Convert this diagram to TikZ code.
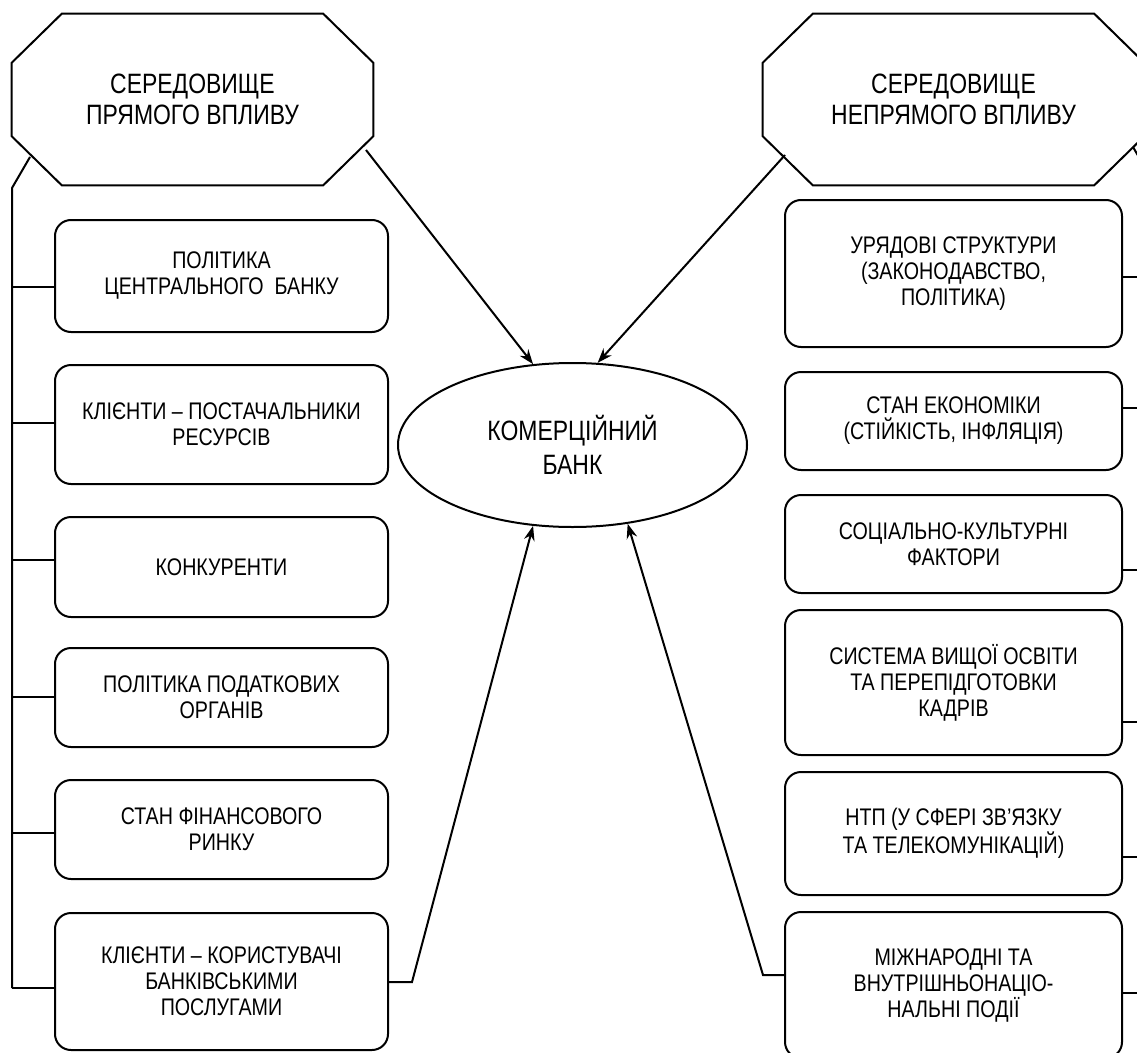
\documentclass[tikz,border=0pt]{standalone}
\usepackage{fontspec}
\setmainfont{Liberation Sans}[FakeStretch=0.82]
\usetikzlibrary{arrows.meta,positioning,shapes.geometric}

\begin{document}
\begin{tikzpicture}[x=0.75pt, y=-0.75pt,
    factor/.style={draw, rounded corners=12pt, line width=1.5pt, align=center, inner sep=2pt, font=\fontsize{18}{19.5}\selectfont},
    env/.style={align=center, minimum height=128.25pt, inner sep=0pt, font=\fontsize{21}{23.25}\selectfont},
    link/.style={line width=1.5pt},
    arr/.style={-{Stealth[length=11pt, width=8pt]}, line width=1.5pt}]
    \useasboundingbox (0,0) rectangle (1137,1052);
    \clip (0,0) rectangle (1137,1052);

    % environments
    \node[env, minimum width=270.75pt] (direct) at (192.5,99.5) {СЕРЕДОВИЩЕ\\ПРЯМОГО ВПЛИВУ};
    \node[env, minimum width=285.75pt] (indirect) at (953.5,99.5) {СЕРЕДОВИЩЕ\\НЕПРЯМОГО ВПЛИВУ};
    \foreach \n in {direct,indirect}
        \draw[link] ([xshift=37.5pt]\n.north west) -- ([xshift=-37.5pt]\n.north east)
            -- ([yshift=-36.75pt]\n.north east) -- ([yshift=36.75pt]\n.south east)
            -- ([xshift=-37.5pt]\n.south east) -- ([xshift=37.5pt]\n.south west)
            -- ([yshift=36.75pt]\n.south west) -- ([yshift=-36.75pt]\n.north west) -- cycle;
    \node[draw, ellipse, line width=1.5pt, minimum width=261.75pt, minimum height=123pt, align=center, font=\fontsize{21}{25.5}\selectfont] (bank) at (572.5,445) {КОМЕРЦІЙНИЙ\\БАНК};

    % direct factors
    \node[factor, minimum width=249.75pt, minimum height=84pt] (l1) at (221.5,276) {ПОЛІТИКА\\ЦЕНТРАЛЬНОГО~~БАНКУ};
    \node[factor, minimum width=249.75pt, minimum height=89.25pt] (l2) at (221.5,424.5) {КЛІЄНТИ – ПОСТАЧАЛЬНИКИ\\РЕСУРСІВ};
    \node[factor, minimum width=249.75pt, minimum height=75pt] (l3) at (221.5,567) {КОНКУРЕНТИ};
    \node[factor, minimum width=249.75pt, minimum height=74.25pt] (l4) at (221.5,697.5) {ПОЛІТИКА ПОДАТКОВИХ\\ОРГАНІВ};
    \node[factor, minimum width=249.75pt, minimum height=74.25pt] (l5) at (221.5,829.5) {СТАН ФІНАНСОВОГО\\РИНКУ};
    \node[factor, minimum width=249.75pt, minimum height=102.75pt] (l6) at (221.5,981.5) {КЛІЄНТИ – КОРИСТУВАЧІ\\БАНКІВСЬКИМИ\\ПОСЛУГАМИ};

    % indirect factors
    \node[factor, minimum width=252.75pt, minimum height=110.25pt] (r1) at (953.5,273.5) {УРЯДОВІ СТРУКТУРИ\\(ЗАКОНОДАВСТВО,\\ПОЛІТИКА)};
    \node[factor, minimum width=252.75pt, minimum height=73.5pt] (r2) at (953.5,421) {СТАН ЕКОНОМІКИ\\(СТІЙКІСТЬ, ІНФЛЯЦІЯ)};
    \node[factor, minimum width=252.75pt, minimum height=73.5pt] (r3) at (953.5,544) {СОЦІАЛЬНО-КУЛЬТУРНІ\\ФАКТОРИ};
    \node[factor, minimum width=252.75pt, minimum height=108.75pt] (r4) at (953.5,682.5) {СИСТЕМА ВИЩОЇ ОСВІТИ\\ТА ПЕРЕПІДГОТОВКИ\\КАДРІВ};
    \node[factor, minimum width=252.75pt, minimum height=92.25pt] (r5) at (953.5,833.5) {НТП (У СФЕРІ ЗВ’ЯЗКУ\\ТА ТЕЛЕКОМУНІКАЦІЙ)};
    \node[factor, minimum width=252.75pt, minimum height=109.5pt] (r6) at (953.5,985) {МІЖНАРОДНІ ТА\\ВНУТРІШНЬОНАЦІО-\\НАЛЬНІ ПОДІЇ};

    % points on the chamfers
    \coordinate (dlink) at ([shift={(-162.5,57.5)}]direct.center);
    \coordinate (dout) at ([shift={(173.5,50.5)}]direct.center);
    \coordinate (ilink) at ([shift={(179.5,47.5)}]indirect.center);
    \coordinate (iout) at ([shift={(-168.5,55.5)}]indirect.center);

    % trunks
    \coordinate (ltop) at (12,188);
    \coordinate (lt1) at (12,287);
    \coordinate (lt2) at (12,423);
    \coordinate (lt3) at (12,560);
    \coordinate (lt4) at (12,697);
    \coordinate (lt5) at (12,833);
    \coordinate (lt6) at (12,988);
    \coordinate (rtop) at (1151,178);
    \coordinate (rt1) at (1151,277);
    \coordinate (rt2) at (1151,408);
    \coordinate (rt3) at (1151,570);
    \coordinate (rt4) at (1151,722);
    \coordinate (rt5) at (1151,857);
    \coordinate (rt6) at (1151,993);
    \draw[link] (dlink) -- (ltop) -- (lt6);
    \draw[link] (ilink) -- (rtop) -- (rt6);
    \foreach \i in {1,...,6} {
        \draw[link] (lt\i) -- (lt\i -| l\i.west);
        \draw[link] (rt\i) -- (rt\i -| r\i.east);
    }

    % influences
    \coordinate (lbend) at (412,982);
    \coordinate (rbend) at (763,975);
    \draw[arr] (dout) -- (bank.116);
    \draw[arr] (iout) -- (bank.73);
    \draw[arr] (lbend -| l6.east) -- (lbend) -- (bank.-116);
    \draw[arr] (rbend -| r6.west) -- (rbend) -- (bank.-55);
\end{tikzpicture}
\end{document}
